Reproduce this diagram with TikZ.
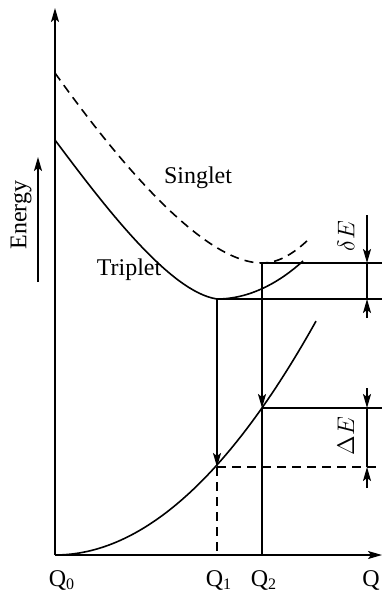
\documentclass[tikz,border=0pt]{standalone}
\usepackage{fontspec}
\setmainfont{Liberation Serif}
\usetikzlibrary{arrows.meta}
\begin{document}
\begin{tikzpicture}[x=0.5pt,y=-0.5pt,
  line width=0.8pt,
  tip/.style={-{Stealth[length=7pt,width=4pt,inset=1.5pt]}},
  dsh/.style={dash pattern=on 4.5pt off 3pt},
  lbl/.style={font=\fontsize{12}{14}\selectfont, inner sep=0pt}]
\useasboundingbox (0,0) rectangle (382,593);
% key points
\coordinate (O) at (55,555);
\coordinate (ytop) at (55,8);
\coordinate (xend) at (382,555);
\coordinate (Tmin) at (217,299);
\coordinate (Smin) at (262,263);
\coordinate (G1) at (217,467);
\coordinate (G2) at (262,408);
\coordinate (Q1b) at (217,555);
\coordinate (Q2b) at (262,555);
\coordinate (R1) at (382,263);
\coordinate (R2) at (382,299);
\coordinate (R3) at (382,408);
\coordinate (R4) at (382,467);
% axes
\draw[tip] (O) -- (ytop);
\draw[tip] (O) -- (xend);
% energy arrow
\coordinate (eb) at (38,282);
\coordinate (et) at (38,157);
\draw[tip] (eb) -- (et);
\node[lbl, rotate=90] (energy) at (21,215) {Energy};
% curves
\draw (55,140) .. controls (105,207) and (170,292) .. (Tmin)
      .. controls (250,299) and (280,282) .. (303,261);
\draw[dsh] (55,73) .. controls (110,150) and (200,263) .. (Smin)
      .. controls (280,263) and (295,252) .. (308,240);
\draw plot[domain=55:316, samples=60, smooth] (\x, {555-0.00343*(\x-55)*(\x-55)});
% verticals and transitions
\draw[tip] (Tmin) -- (G1);
\draw[tip] (Smin) -- (G2);
\draw (G2) -- (Q2b);
\draw[dsh] (G1) -- (Q1b);
% horizontals
\draw (Smin) -- (R1);
\draw (Tmin) -- (R2);
\draw (G2) -- (R3);
\draw[dsh] (G1) -- (R4);
% dimension marks
\coordinate (d1) at (367,215);
\coordinate (d2) at (367,263);
\coordinate (d3) at (367,299);
\coordinate (d4) at (367,318);
\draw[tip] (d1) -- (d2);
\draw (d2) -- (d3);
\draw[tip] (d4) -- (d3);
\coordinate (e1) at (367,388);
\coordinate (e2) at (367,408);
\coordinate (e3) at (367,467);
\coordinate (e4) at (367,488);
\draw[tip] (e1) -- (e2);
\draw (e2) -- (e3);
\draw[tip] (e4) -- (e3);
\node[lbl, rotate=90] (dE) at (346,236) {$\delta E$};
\node[lbl, rotate=90] (DE) at (346,436) {$\Delta E$};
% labels
\node[lbl] (singlet) at (198,178) {Singlet};
\node[lbl] (triplet) at (129,270) {Triplet};
\node[lbl] (q0) at (62,580) {Q\textsubscript{0}};
\node[lbl] (q1) at (219,580) {Q\textsubscript{1}};
\node[lbl] (q2) at (264,580) {Q\textsubscript{2}};
\node[lbl] (q) at (371,580) {Q};
\end{tikzpicture}
\end{document}
